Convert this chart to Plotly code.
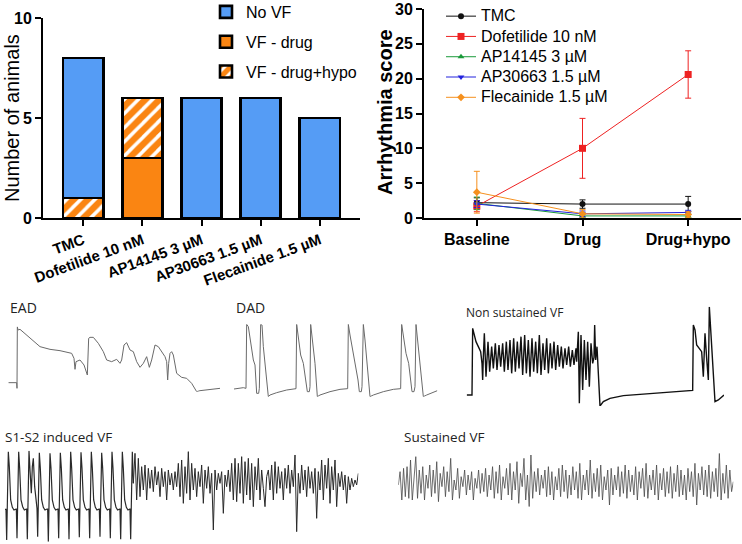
import numpy as np
import plotly.graph_objects as go

W, H = 742, 544

# ---------------- data: VF incidence (stacked bars) ----------------
groups = ["TMC", "Dofetilide 10 nM", "AP14145 3 µM", "AP30663 1.5 µM", "Flecainide 1.5 µM"]
no_vf = [7, 0, 6, 6, 5]
vf_drug = [0, 3, 0, 0, 0]
vf_hypo = [1, 3, 0, 0, 0]

# ---------------- data: arrhythmia score ----------------
phases = ["Baseline", "Drug", "Drug+hypo"]
tmc_mean = [2.2, 2.0, 2.0]
tmc_err = [0.7, 0.6, 1.1]
dof_mean = [1.7, 10.0, 20.6]
dof_err = [0.8, 4.3, 3.4]
ap14_mean = [2.1, 0.3, 0.3]
ap14_err = [0.9, 0.3, 0.3]
ap30_mean = [2.0, 0.6, 0.8]
ap30_err = [0.5, 0.4, 0.3]
fle_mean = [3.7, 0.6, 0.5]
fle_err = [3.0, 0.6, 0.4]

# ---------------- data: example traces (y grows downward) ----------------
ead_t = [25, 50, 51, 52, 54, 60, 70, 80, 100, 120, 150, 180, 215, 220, 222, 225, 228, 240, 252, 262,
         264, 266, 270, 280, 295, 310, 320, 335, 350, 360, 365, 372, 380, 390, 400, 410, 420, 430, 440, 448,
         455, 465, 475, 485, 495, 500, 503, 506, 510, 515, 520, 530, 545, 560, 575, 590, 600, 660]
ead_v = [308, 308, 325, 140, 150, 148, 157, 165, 185, 200, 208, 212, 220, 228, 235, 268, 245, 240, 255, 285,
         200, 175, 172, 172, 190, 215, 240, 245, 238, 250, 240, 195, 188, 210, 215, 245, 262, 250, 230, 262,
         240, 195, 200, 215, 230, 245, 300, 250, 220, 215, 225, 280, 292, 295, 310, 335, 332, 325]

dad_t = [12, 40, 48, 50, 55, 62, 70, 75, 80, 86, 88, 92, 96, 100, 108, 115, 120, 140, 170, 198,
         200, 204, 212, 220, 228, 232, 238, 240, 242, 248, 255, 262, 270, 300, 330, 353, 355, 360, 368, 376,
         384, 388, 394, 396, 400, 405, 413, 420, 430, 460, 490, 512, 515, 520, 528, 536, 542, 546, 552, 555,
         558, 565, 572, 580, 590, 605, 622]
dad_v = [327, 323, 325, 133, 140, 195, 240, 255, 340, 340, 325, 133, 135, 200, 280, 350, 345, 338, 330, 326,
         133, 165, 225, 250, 300, 335, 335, 320, 133, 180, 250, 350, 345, 335, 328, 326, 133, 165, 210, 245,
         300, 335, 335, 320, 133, 180, 260, 350, 345, 335, 328, 326, 133, 170, 220, 250, 300, 335, 335, 320,
         133, 200, 280, 350, 345, 338, 332]

nsvf_t = [50, 64, 66, 68, 72, 78, 85, 92, 96, 98,
          100, 103, 108, 114, 119, 125, 130, 136, 141, 147, 152, 158, 163, 169, 174, 180, 185, 191, 196, 202,
          207, 213, 218, 224, 229, 235, 240, 246, 251, 257, 262, 268, 273, 279, 284, 290, 295, 301, 306, 312,
          317, 323, 328, 334, 339, 345, 350, 356, 361, 367, 372, 378, 380,
          385, 388, 393, 398, 403, 408, 413, 418, 423, 428, 432, 434, 437, 441, 445, 450,
          460, 480, 520, 600, 700, 728, 730, 735, 740, 748, 755, 760, 765, 770, 775, 778, 782, 788, 795, 805,
          815, 822]
nsvf_v = [345, 343, 345, 145, 160, 185, 200, 215, 250, 300,
          230, 160, 290, 185, 275, 200, 265, 190, 270, 195, 260, 190, 275, 185, 270, 180, 280, 175, 275, 185,
          265, 170, 285, 165, 280, 180, 290, 175, 275, 185, 280, 165, 285, 190, 270, 175, 280, 190, 265, 185,
          270, 195, 260, 200, 265, 205, 255, 200, 260, 210, 255, 205, 245,
          155, 370, 165, 330, 180, 300, 185, 320, 190, 250, 232, 135, 240, 200, 300, 378,
          365, 355, 347, 340, 333, 331, 135, 150, 195, 205, 215, 290, 160, 235, 300, 80, 140, 260, 365, 360,
          350, 345]

s1_t = [15, 18, 20, 22, 25, 28, 32, 37, 42, 48,
        49, 51, 53, 56, 59, 63, 68, 73, 79,
        80, 82, 84, 87, 90, 94, 97, 100, 104, 108, 111,
        113, 115, 118, 121, 125, 130, 135, 141,
        143, 145, 147, 150, 153, 157, 162, 167, 173,
        174, 176, 178, 181, 184, 188, 193, 198, 204,
        205, 207, 209, 212, 215, 219, 224, 229, 235,
        236, 238, 240, 243, 246, 250, 255, 260, 266,
        267, 269, 271, 274, 277, 281, 286, 291, 297,
        298, 300, 302, 305, 308, 312, 317, 322, 328,
        329, 331, 333, 336, 339, 343, 348, 353, 359,
        360, 362, 364, 367, 370, 374, 379, 384, 389,
        390, 392, 394, 397, 400]
s1_v = [328, 328, 420, 330, 155, 200, 300, 322, 330, 327,
        327, 415, 330, 155, 205, 300, 320, 330, 327,
        327, 418, 330, 152, 210, 280, 200, 175, 260, 310, 325,
        410, 330, 158, 205, 300, 322, 330, 327,
        327, 425, 330, 160, 205, 300, 322, 330, 327,
        327, 415, 330, 158, 205, 300, 322, 330, 327,
        327, 418, 330, 155, 205, 300, 322, 330, 327,
        327, 412, 330, 157, 205, 300, 322, 330, 327,
        327, 415, 330, 155, 205, 300, 322, 330, 327,
        327, 410, 330, 158, 205, 300, 322, 330, 327,
        327, 415, 330, 155, 205, 300, 322, 330, 327,
        327, 418, 330, 155, 205, 300, 322, 330, 327,
        327, 418, 330, 155, 250]

s2_vf_v = [250, 160, 300, 175, 290, 200, 270, 195, 300, 205, 265, 210, 275, 200, 255, 215, 290, 205, 260, 215,
           300, 210, 255, 220, 270, 215, 260, 190, 290, 180, 310, 200, 280, 155, 300, 190, 270, 205, 290, 215,
           260, 195, 310, 210, 265, 200, 280, 220, 390, 210, 270, 220, 250, 215, 340, 225, 260, 210, 275, 190,
           300, 175, 305, 190, 280, 170, 310, 185, 285, 175, 300, 190, 320, 200, 270, 175, 300, 210, 265, 320,
           230, 210, 270, 195, 300, 185, 280, 200, 265, 215, 300, 205, 265, 195, 280, 210, 260, 165, 395, 220,
           280, 195, 270, 210, 290, 200, 265, 215, 280, 205, 355, 215, 270, 180, 300, 195, 265, 175, 310, 200,
           270, 180, 320, 220, 260, 215, 270, 225, 310, 230, 270, 235, 260, 240, 255, 220]

svf_v = [255, 215, 300, 205, 290, 200, 295, 180, 300, 230, 170, 295, 210, 280, 200, 300, 225, 265, 195, 290,
         210, 280, 185, 305, 220, 260, 200, 290, 215, 275, 175, 300, 240, 270, 205, 295, 230, 260, 210, 285,
         225, 270, 215, 300, 235, 265, 210, 280, 220, 275, 205, 290, 225, 270, 200, 295, 215, 280, 195, 300,
         230, 265, 205, 285, 190, 300, 215, 270, 185, 310, 220, 260, 175, 300, 225, 320, 165, 295, 215, 275,
         205, 285, 225, 265, 210, 290, 200, 285, 215, 300, 230, 270, 205, 290, 195, 275, 210, 295, 225, 285,
         200, 270, 215, 295, 190, 300, 225, 270, 210, 285, 180, 295, 220, 275, 205, 290, 195, 300, 230, 270,
         210, 315, 205, 285, 225, 270, 200, 290, 215, 280, 195, 295, 210, 275, 225, 285, 200, 300, 215, 265,
         205, 290, 190, 295, 225, 270, 210, 285, 195, 300, 220, 270, 205, 290, 215, 280, 200, 295, 220, 275,
         195, 290, 210, 285, 225, 300, 205, 275, 215, 290, 190, 315, 220, 270, 200, 285, 210, 290, 195, 295,
         215, 275, 205, 290, 160, 300, 220, 280, 195, 295, 210, 275, 245]

# ---------------- styling ----------------
BLUE = "#559cf5"
ORANGE = "#fa8512"
FONT = "Arial, Liberation Sans, sans-serif"
LBL = "Open Sans, Noto Sans, sans-serif"


def px_x(p):
    return p / W


def px_y(p):
    return 1 - p / H


def big(s):
    return f'<span style="font-size:16px">{s}</span>'


fig = go.Figure()

# stacked bars
fig.add_trace(go.Bar(x=groups, y=vf_drug, name="VF - drug", marker=dict(color=ORANGE, line=dict(color="black", width=2.6)),
                     legendrank=2, legendgroup="b2", xaxis="x", yaxis="y", legend="legend"))
fig.add_trace(go.Bar(x=groups, y=vf_hypo, name="VF - drug+hypo",
                     marker=dict(color=ORANGE, line=dict(color="black", width=2.6),
                                 pattern=dict(shape="/", fgcolor=ORANGE, bgcolor="white", size=10,
                                              solidity=0.65, fgopacity=1)),
                     legendrank=3, legendgroup="b3", xaxis="x", yaxis="y", legend="legend"))
fig.add_trace(go.Bar(x=groups, y=no_vf, name="No VF", marker=dict(color=BLUE, line=dict(color="black", width=2.6)),
                     legendrank=1, legendgroup="b1", xaxis="x", yaxis="y", legend="legend"))

# arrhythmia score lines
series = [
    ("TMC", tmc_mean, tmc_err, "#111111", "circle", 6),
    ("Dofetilide 10 nM", dof_mean, dof_err, "#ee2222", "square", 7),
    ("AP14145 3 µM", ap14_mean, ap14_err, "#1a9a3a", "triangle-up", 6),
    ("AP30663 1.5 µM", ap30_mean, ap30_err, "#2222dd", "triangle-down", 6),
    ("Flecainide 1.5 µM", fle_mean, fle_err, "#f5901e", "diamond", 6),
]
for i, (nm, m, e, c, sym, ms) in enumerate(series):
    fig.add_trace(go.Scatter(x=phases, y=m, name=big(nm), mode="lines+markers",
                             line=dict(color=c, width=1), marker=dict(color=c, symbol=sym, size=ms),
                             error_y=dict(type="data", array=e, color=c, thickness=1, width=3),
                             xaxis="x2", yaxis="y2", legend="legend2", legendrank=i + 1))

# example traces
trace_specs = [
    # (t, v, axis idx, crop offset x, crop offset y, color, width)
    (ead_t, ead_v, 3, 0, 280, "#6a6a6a", 1.0),
    (dad_t, dad_v, 4, 230, 280, "#6a6a6a", 1.0),
    (nsvf_t, nsvf_v, 5, 450, 280, "#111111", 1.4),
    (s1_t, s1_v, 6, 0, 400, "#2a2a2a", 1.2),
    (list(np.linspace(400, 1075, len(s2_vf_v))), s2_vf_v, 6, 0, 400, "#2a2a2a", 1.0),
    (list(np.linspace(85, 1090, len(svf_v))), svf_v, 7, 370, 400, "#4a4a4a", 0.8),
]
axis_extent = {}
for t, v, k, ox, oy, c, w in trace_specs:
    fig.add_trace(go.Scatter(x=t, y=v, mode="lines", line=dict(color=c, width=w), showlegend=False,
                             hoverinfo="skip", xaxis=f"x{k}", yaxis=f"y{k}"))
    ext = axis_extent.get(k, [1e9, -1e9, 1e9, -1e9, ox, oy])
    ext[0] = min(ext[0], min(t)); ext[1] = max(ext[1], max(t))
    ext[2] = min(ext[2], min(v)); ext[3] = max(ext[3], max(v))
    axis_extent[k] = ext

layout = dict(
    template="none",
    width=W, height=H, margin=dict(l=0, r=0, t=0, b=0, autoexpand=False),
    paper_bgcolor="white", plot_bgcolor="white",
    barmode="stack", bargap=0.32,
    font=dict(family=FONT, color="black"),
    xaxis=dict(domain=[px_x(43), px_x(360)], range=[-0.68, 4.68], showline=True, linewidth=2, linecolor="black",
               ticks="outside", ticklen=6, tickwidth=2, tickcolor="black", tickangle=-20, automargin=False,
               tickfont=dict(size=15, family=FONT, weight="bold"), anchor="y", showgrid=False),
    yaxis=dict(domain=[px_y(218), px_y(18)], range=[0, 10], tickvals=[0, 5, 10], showline=True, linewidth=2,
               linecolor="black", ticks="outside", ticklen=6, tickwidth=2, tickcolor="black", automargin=False,
               tickfont=dict(size=16, family=FONT, weight="bold"), anchor="x", showgrid=False, zeroline=False),
    xaxis2=dict(domain=[px_x(424), px_x(741)], range=[-0.5, 2.5], showline=True, linewidth=2, linecolor="black",
                ticks="outside", ticklen=6, tickwidth=2, tickcolor="black", automargin=False,
                tickfont=dict(size=16, family=FONT, weight="bold"), anchor="y2", showgrid=False),
    yaxis2=dict(domain=[px_y(218), px_y(9)], range=[0, 30], dtick=5, showline=True, linewidth=2,
                linecolor="black", ticks="outside", ticklen=6, tickwidth=2, tickcolor="black", automargin=False,
                tickfont=dict(size=16, family=FONT, weight="bold"), anchor="x2", showgrid=False, zeroline=False),
    legend=dict(x=px_x(206), y=px_y(-5), xanchor="left", yanchor="top", font=dict(size=16, family=FONT),
                tracegroupgap=6, bgcolor="rgba(0,0,0,0)", itemwidth=30),
    legend2=dict(x=px_x(441), y=px_y(1), xanchor="left", yanchor="top", font=dict(size=13.3, family=FONT),
                 bgcolor="rgba(0,0,0,0)", itemwidth=30, tracegroupgap=0),
    showlegend=True,
)
for k, (x0, x1, y0, y1, ox, oy) in axis_extent.items():
    layout[f"xaxis{k}"] = dict(domain=[px_x(ox + x0 / 3), px_x(ox + x1 / 3)], range=[x0, x1], visible=False,
                               anchor=f"y{k}", automargin=False)
    layout[f"yaxis{k}"] = dict(domain=[px_y(oy + y1 / 3), px_y(oy + y0 / 3)], range=[y1, y0], visible=False,
                               anchor=f"x{k}", automargin=False)
fig.update_layout(**layout)

annos = [
    dict(text="Number of animals", x=px_x(12), y=px_y(118), textangle=-90, font=dict(size=20, family=FONT)),
    dict(text="<b>Arrhythmia score</b>", x=px_x(385), y=px_y(112), textangle=-90, font=dict(size=20, family=FONT)),
    dict(text="EAD", x=px_x(8), y=px_y(307), xanchor="left", font=dict(size=14, family=LBL, color="#222")),
    dict(text="DAD", x=px_x(234), y=px_y(307), xanchor="left", font=dict(size=14, family=LBL, color="#222")),
    dict(text="Non sustained VF", x=px_x(464), y=px_y(312), xanchor="left", font=dict(size=12, family=LBL, color="#222")),
    dict(text="S1-S2 induced VF", x=px_x(3), y=px_y(437), xanchor="left", font=dict(size=13.5, family=LBL, color="#222")),
    dict(text="Sustained VF", x=px_x(402), y=px_y(437), xanchor="left", font=dict(size=13.5, family=LBL, color="#222")),
]
for a in annos:
    a.update(xref="paper", yref="paper", showarrow=False)
    a.setdefault("xanchor", "center")
    a["yanchor"] = "middle"
fig.update_layout(annotations=annos)

fig.write_html("out.html")
